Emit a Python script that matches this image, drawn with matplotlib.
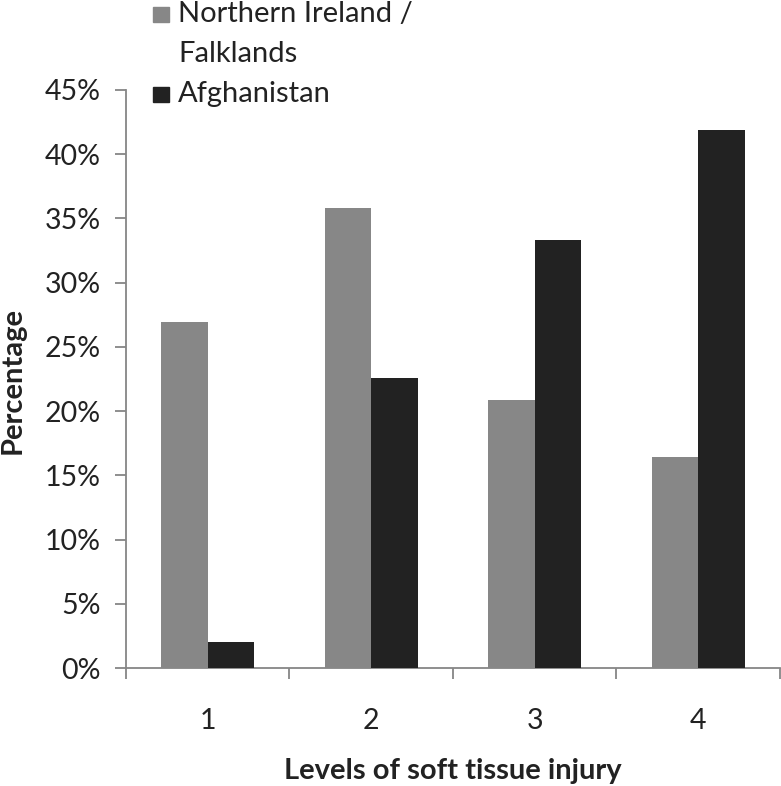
import numpy as np
import matplotlib
matplotlib.use("Agg")
import matplotlib.pyplot as plt
from matplotlib.patches import Rectangle
from matplotlib.ticker import PercentFormatter, FixedLocator

# data
levels = ["1", "2", "3", "4"]
series_names = ["Northern Ireland /\nFalklands", "Afghanistan"]
ni_falklands = [26.9, 35.8, 20.9, 16.4]
afghanistan = [2.05, 22.6, 33.3, 41.85]
colors = ["#878787", "#222222"]

plt.rcParams["font.family"] = ["Lato", "DejaVu Sans"]
axis_grey = "#868686"
txt = "#222222"

fig = plt.figure(figsize=(7.81, 7.86), dpi=100)
ax = fig.add_axes([0.1613, 0.1501, 0.8374, 0.7354])

x = np.arange(len(levels))
w = 0.285
ax.bar(x - w / 2, ni_falklands, width=w, color=colors[0], zorder=3)
ax.bar(x + w / 2, afghanistan, width=w, color=colors[1], zorder=3)

ax.set_xlim(-0.5, len(levels) - 0.5)
ax.set_ylim(0, 45)
ax.set_yticks(np.arange(0, 46, 5))
ax.yaxis.set_major_formatter(PercentFormatter(decimals=0))

# category labels centred, tick marks between categories
ax.set_xticks(x)
ax.set_xticklabels(levels)
ax.xaxis.set_minor_locator(FixedLocator(np.arange(-0.5, len(levels), 1.0)))
ax.tick_params(axis="x", which="major", length=0, pad=29, labelsize=20.5, labelcolor=txt)
ax.tick_params(axis="x", which="minor", length=8, width=1.3, color=axis_grey, direction="out")
ax.tick_params(axis="y", length=8, width=1.3, color=axis_grey, labelsize=20.5, labelcolor=txt, pad=10)

for s in ["top", "right"]:
    ax.spines[s].set_visible(False)
for s in ["left", "bottom"]:
    ax.spines[s].set_color(axis_grey)
    ax.spines[s].set_linewidth(1.3)

fig.text(13 / 781, 1 - 380 / 786, "Percentage", rotation=90, ha="center", va="center",
         fontsize=21, fontweight="bold", color=txt)
fig.text(453 / 781, 1 - 771 / 786, "Levels of soft tissue injury", ha="center", va="center",
         fontsize=21, fontweight="bold", color=txt)

# legend: square aligned with first line of label, like the original
legend_base = [22, 102]
for name, c, yb in zip(series_names, colors, legend_base):
    fig.patches.append(Rectangle((153 / 781, 1 - yb / 786), 16 / 781, 15 / 786,
                                 transform=fig.transFigure, color=c, figure=fig))
    fig.text(178 / 781, 1 - yb / 786, name.split("\n")[0], ha="left", va="baseline",
             fontsize=21, color=txt)
    if "\n" in name:
        fig.text(178 / 781, 1 - (yb + 40) / 786, name.split("\n")[1], ha="left",
                 va="baseline", fontsize=21, color=txt)

fig.savefig("out.png", dpi=100)
